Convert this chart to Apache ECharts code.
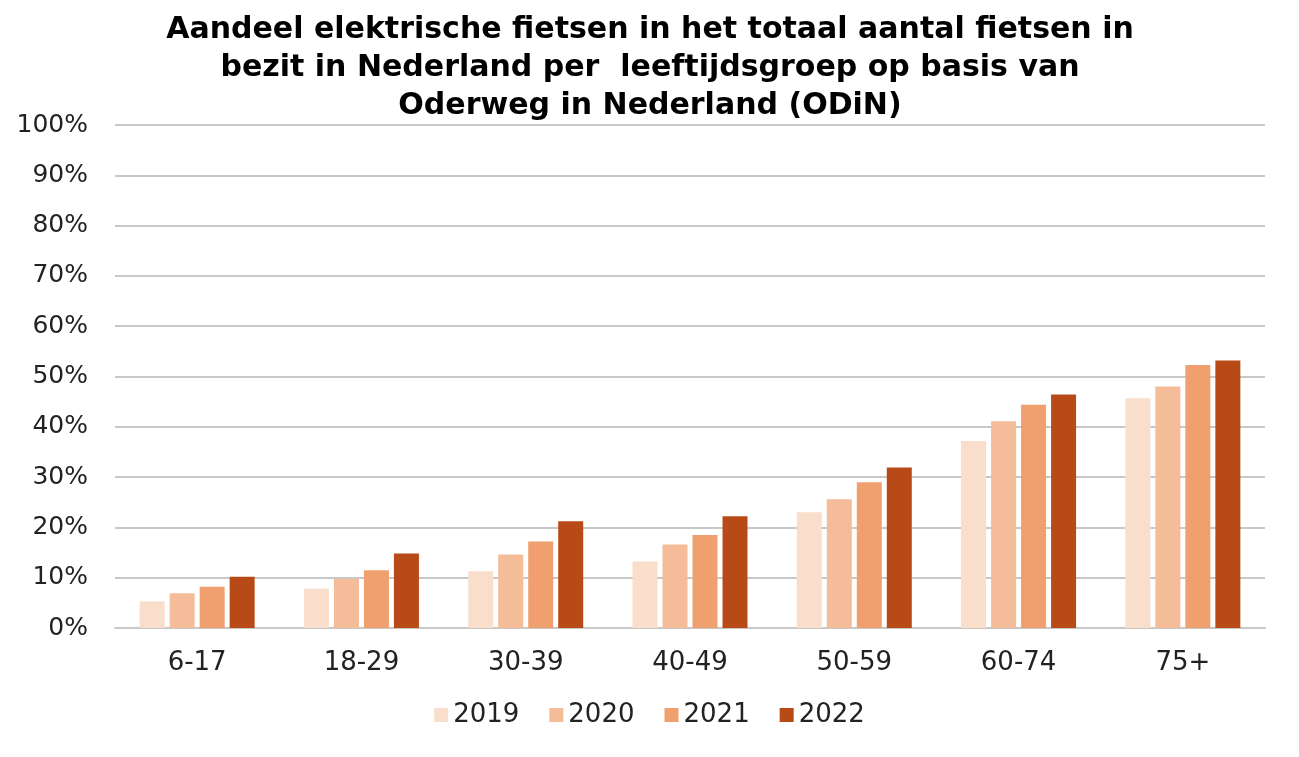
<!DOCTYPE html>
<html>
<head>
<meta charset="utf-8">
<script src="https://cdn.jsdelivr.net/npm/echarts@6/dist/echarts.min.js"></script>
<style>
html,body{margin:0;padding:0;background:#fff;}
#chart{width:1299px;height:757px;}
</style>
</head>
<body>
<div id="chart"></div>
<script>
const categories = ['6-17','18-29','30-39','40-49','50-59','60-74','75+'];
const years = ['2019','2020','2021','2022'];
const s2019 = [5.3, 7.8, 11.3, 13.2, 23.0, 37.2, 45.7];
const s2020 = [6.9, 9.8, 14.6, 16.6, 25.6, 41.1, 48.0];
const s2021 = [8.2, 11.5, 17.2, 18.5, 29.0, 44.4, 52.3];
const s2022 = [10.2, 14.8, 21.2, 22.2, 31.9, 46.4, 53.2];
const colors = ['#F9DECB', '#F4BC98', '#F0A06E', '#B84A18'];
const titleText = 'Aandeel elektrische fietsen in het totaal aantal fietsen in\nbezit in Nederland per  leeftijdsgroep op basis van\nOderweg in Nederland (ODiN)';

const seriesData = [s2019, s2020, s2021, s2022];
const chart = echarts.init(document.getElementById('chart'));
chart.setOption({
  backgroundColor: '#fff',
  animation: false,
  color: colors,
  title: {
    text: titleText,
    left: 645,
    textAlign: 'center',
    top: 6,
    textStyle: {fontFamily: 'DejaVu Sans', fontWeight: 'bold', fontSize: 30, lineHeight: 38, color: '#000'}
  },
  legend: {
    data: years,
    left: 'center',
    top: 697,
    itemWidth: 14,
    itemHeight: 14,
    itemGap: 30,
    icon: 'rect',
    textStyle: {fontFamily: 'DejaVu Sans', fontSize: 26, color: '#222'}
  },
  grid: {left: 115, right: 34, top: 125, bottom: 129, containLabel: false},
  xAxis: {
    type: 'category',
    data: categories,
    axisLine: {show: true, lineStyle: {color: '#c8c8c8', width: 2}},
    axisTick: {show: false},
    axisLabel: {fontFamily: 'DejaVu Sans', fontSize: 26, color: '#222', margin: 22}
  },
  yAxis: {
    type: 'value',
    min: 0, max: 100, interval: 10,
    axisLine: {show: false},
    axisTick: {show: false},
    axisLabel: {fontFamily: 'DejaVu Sans', fontSize: 25, color: '#222', margin: 27, formatter: '{value}%'},
    splitLine: {lineStyle: {color: '#c8c8c8', width: 2}}
  },
  series: years.map((y, i) => ({
    name: y,
    type: 'bar',
    data: seriesData[i],
    barWidth: 25,
    barGap: '20%',
    itemStyle: {color: colors[i]}
  }))
});
</script>
</body>
</html>
